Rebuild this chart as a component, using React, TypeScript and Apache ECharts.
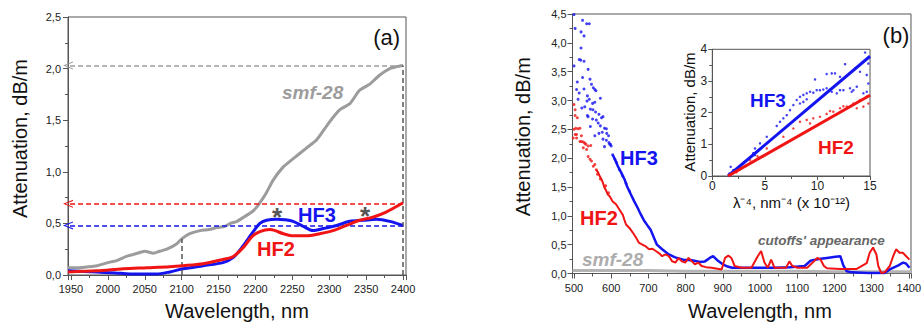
import React, { useEffect, useRef } from "react";
import * as echarts from "echarts";

type P = [number, number];

// ---------- Panel (a): 1950–2400 nm ----------
const SMF_A: P[] = [
  [1946, 0.07], [1960, 0.07], [1975, 0.08], [1985, 0.09], [2000, 0.12], [2012, 0.14],
  [2025, 0.18], [2035, 0.2], [2044, 0.22], [2050, 0.23], [2062, 0.21], [2070, 0.23],
  [2080, 0.25], [2093, 0.3], [2100, 0.35], [2111, 0.4], [2125, 0.43], [2137, 0.44],
  [2148, 0.46], [2158, 0.47], [2166, 0.5], [2175, 0.52], [2184, 0.56], [2195, 0.61],
  [2202, 0.66], [2208, 0.72], [2215, 0.8], [2224, 0.92], [2238, 1.05], [2250, 1.12],
  [2269, 1.23], [2283, 1.31], [2299, 1.47], [2314, 1.6], [2328, 1.66], [2341, 1.79],
  [2355, 1.85], [2369, 1.94], [2382, 2.0], [2392, 2.02], [2400, 2.03],
];
const HF3_A: P[] = [
  [1946, 0.04], [1985, 0.03], [2010, 0.02], [2030, 0.01], [2066, 0.01], [2084, 0.03],
  [2102, 0.06], [2129, 0.09], [2156, 0.12], [2170, 0.17], [2184, 0.29], [2195, 0.4],
  [2206, 0.5], [2215, 0.53], [2229, 0.54], [2240, 0.535], [2251, 0.52], [2265, 0.47],
  [2278, 0.43], [2292, 0.45], [2310, 0.48], [2328, 0.52], [2346, 0.53], [2364, 0.54],
  [2382, 0.52], [2400, 0.48],
];
const HF2_A: P[] = [
  [1946, 0.03], [1985, 0.04], [2021, 0.06], [2053, 0.07], [2084, 0.08], [2102, 0.09],
  [2129, 0.11], [2156, 0.15], [2170, 0.18], [2184, 0.27], [2195, 0.37], [2206, 0.42],
  [2220, 0.44], [2238, 0.4], [2251, 0.38], [2269, 0.38], [2287, 0.4], [2305, 0.43],
  [2323, 0.48], [2341, 0.53], [2359, 0.56], [2377, 0.61], [2400, 0.7],
];
const A_LEVELS = { smf: 2.03, hf2: 0.69, hf3: 0.48 };
const A_MARK_X = [2100, 2400];
const A_MARK_Y = [0.35, 2.03];

// ---------- Panel (b): 500–1400 nm ----------
const HF3_B_DOTS: P[] = [
  [500, 4.49], [523, 4.39], [534, 4.33], [541, 4.33], [503, 4.25], [519, 4.19], [527, 4.12],
  [519, 3.91], [514, 3.71], [518, 3.7], [527, 3.68], [500, 3.6], [538, 3.54], [523, 3.4],
  [543, 3.37], [509, 3.32], [547, 3.28], [552, 3.22], [556, 3.19], [559, 3.17], [507, 3.19],
  [527, 3.2], [514, 3.13], [571, 3.04], [536, 3.08], [511, 3.02], [535, 2.99], [541, 3.02],
  [550, 2.95], [556, 2.97], [521, 2.87], [529, 2.89], [544, 2.85], [551, 2.84], [558, 2.8],
  [536, 2.74], [567, 2.76], [574, 2.7], [578, 2.72], [538, 2.72], [550, 2.68], [560, 2.66],
  [544, 2.55], [565, 2.61], [571, 2.56], [582, 2.52], [587, 2.51], [556, 2.39], [567, 2.43],
  [576, 2.45], [588, 2.43], [593, 2.39], [578, 2.33], [587, 2.31], [594, 2.27], [598, 2.24],
  [600, 2.21], [582, 2.2], [596, 2.24], [604, 2.06], [610, 1.98], [614, 1.93], [622, 1.8],
  [631, 1.69], [640, 1.56], [649, 1.43],
];
const HF3_B: P[] = [
  [604, 2.06], [610, 1.98], [618, 1.86], [627, 1.75], [636, 1.63], [644, 1.49], [653, 1.37],
  [662, 1.25], [671, 1.14], [680, 1.02], [689, 0.91], [698, 0.83], [706, 0.76], [715, 0.62],
  [723, 0.5], [737, 0.42], [755, 0.33], [772, 0.28], [794, 0.24], [817, 0.23], [839, 0.2],
  [852, 0.21], [865, 0.27], [874, 0.3], [887, 0.22], [900, 0.16], [913, 0.12], [925, 0.1],
  [960, 0.1], [1000, 0.1], [1040, 0.1], [1080, 0.11], [1120, 0.13], [1136, 0.22],
  [1158, 0.25], [1180, 0.27], [1203, 0.29], [1216, 0.3], [1224, 0.14], [1233, 0.04],
  [1247, 0.02], [1290, 0.01], [1335, 0.01], [1349, 0.07], [1372, 0.14], [1385, 0.19],
  [1393, 0.17], [1402, 0.1],
];
const HF2_B_DOTS: P[] = [
  [500, 2.93], [503, 2.84], [509, 2.7], [503, 2.74], [500, 2.5], [505, 2.52], [511, 2.51],
  [516, 2.52], [503, 2.41], [507, 2.35], [520, 2.39], [516, 2.29], [525, 2.28], [532, 2.24],
  [538, 2.21], [545, 2.22], [498, 2.35], [507, 2.41], [520, 2.29], [529, 2.26], [525, 2.18],
  [534, 2.15], [538, 2.03], [543, 1.98], [547, 1.95], [552, 1.86], [556, 1.89], [560, 1.8],
  [563, 1.72], [571, 1.64], [585, 1.52], [593, 1.4],
];
const HF2_B: P[] = [
  [560, 1.8], [565, 1.75], [569, 1.69], [574, 1.63], [578, 1.57], [582, 1.49], [587, 1.43],
  [591, 1.37], [596, 1.34], [604, 1.25], [613, 1.2], [622, 1.11], [631, 1.02], [635, 0.94],
  [640, 0.85], [649, 0.79], [658, 0.71], [667, 0.62], [675, 0.53], [684, 0.5], [693, 0.47],
  [702, 0.42], [711, 0.43], [720, 0.39], [729, 0.35], [737, 0.3], [746, 0.33], [755, 0.3],
  [764, 0.21], [773, 0.19], [781, 0.27], [790, 0.21], [799, 0.19], [808, 0.27], [817, 0.21],
  [825, 0.16], [834, 0.19], [843, 0.13], [855, 0.11], [870, 0.1], [897, 0.07], [906, 0.27],
  [915, 0.31], [923, 0.27], [932, 0.13], [950, 0.1], [977, 0.1], [994, 0.3], [1003, 0.39],
  [1012, 0.19], [1021, 0.1], [1030, 0.24], [1039, 0.1], [1070, 0.1], [1079, 0.21],
  [1087, 0.13], [1101, 0.1], [1127, 0.1], [1145, 0.21], [1154, 0.27], [1163, 0.24],
  [1172, 0.13], [1180, 0.09], [1216, 0.08], [1260, 0.08], [1287, 0.18], [1295, 0.36],
  [1304, 0.45], [1313, 0.33], [1318, 0.13], [1326, 0.01], [1335, 0.02], [1349, 0.13],
  [1358, 0.3], [1366, 0.42], [1375, 0.36], [1384, 0.36], [1393, 0.3], [1402, 0.24],
];
const SMF_B: P[] = [
  [496, 0.05], [600, 0.05], [700, 0.05], [800, 0.04], [900, 0.04], [1000, 0.04],
  [1100, 0.04], [1200, 0.03], [1300, 0.03], [1406, 0.03],
];

// ---------- Inset: attenuation vs lambda^-4 ----------
const HF3_FIT: P[] = [[1.5, 0], [15, 3.78]];
const HF2_FIT: P[] = [[1.5, 0], [15, 2.55]];
const HF3_IN_DOTS: P[] = [
  [12.63, 3.53], [14.53, 3.9], [13.58, 3.4], [14.05, 3.29], [14.69, 3.19], [14.84, 3.55],
  [9.77, 3.05], [10.88, 3.22], [11.36, 3.24], [11.67, 3.24], [12.15, 3.13], [10.24, 2.71],
  [10.56, 2.73], [10.88, 2.77], [11.2, 2.73], [11.36, 2.66], [11.84, 2.61], [12.15, 2.71],
  [12.47, 2.71], [13.1, 2.77], [13.26, 2.66], [13.42, 2.71], [13.74, 2.82], [14.37, 2.61],
  [14.69, 2.66], [14.84, 2.92], [8.03, 2.4], [8.34, 2.5], [8.66, 2.56], [8.98, 2.61],
  [9.3, 2.66], [9.61, 2.63], [9.93, 2.71], [8.34, 2.29], [8.66, 2.34], [8.98, 2.42],
  [7.71, 2.24], [7.39, 2.08], [7.08, 1.92], [6.76, 1.82], [6.44, 1.71], [6.13, 1.58],
  [5.18, 1.24], [4.54, 1.03], [4.06, 0.87], [3.9, 0.72], [4.06, 0.66], [2.95, 0.4],
  [2.0, 0.19], [1.75, 0.29], [1.62, 0.08],
];
const HF2_IN_DOTS: P[] = [
  [8.34, 1.71], [8.98, 1.77], [9.61, 1.82], [10.24, 1.87], [10.88, 1.96], [11.51, 2.03],
  [12.15, 2.14], [12.79, 2.19], [13.42, 2.29], [14.05, 2.4], [14.69, 2.5], [14.37, 2.19],
  [14.84, 2.29], [13.74, 2.14], [6.76, 1.24], [5.18, 0.87], [3.59, 0.5], [2.64, 0.24],
  [1.85, 0.08], [7.71, 1.5], [9.3, 1.66], [11.2, 2.05], [12.47, 2.2], [3.2, 0.32],
  [4.3, 0.62], [2.3, 0.12],
];

const BLUE = "#1414f0";
const RED = "#f01414";
const GRAY = "#9c9c9c";
const AXIS = "#555";
const FONT = "'Liberation Sans', Arial, sans-serif";
const CHEVRON = "path://M5,0 L10,10 L8.6,10 L5,2.6 L1.4,10 L0,10 Z";

const comma = (v: number) => v.toFixed(1).replace(".", ",");
const plain = (v: number) => String(Math.round(v));

function axisCommon(extra: any) {
  return {
    type: "value",
    axisLine: { show: true, onZero: false, lineStyle: { color: AXIS, width: 1 } },
    axisTick: { show: true, inside: false, length: 5, lineStyle: { color: AXIS } },
    minorTick: { show: true, splitNumber: 2, length: 3, lineStyle: { color: AXIS } },
    splitLine: { show: false },
    minorSplitLine: { show: false },
    ...extra,
    axisLabel: { color: "#222", fontSize: 11, fontFamily: FONT, ...(extra.axisLabel || {}) },
  };
}

function txt(text: string, x: number, y: number, font: string, fill: string, align = "left", rotation = 0) {
  return {
    type: "text",
    x,
    y,
    rotation,
    silent: true,
    z: 100,
    style: {
      text,
      font,
      fill,
      align,
      textAlign: align,
      verticalAlign: "middle",
      textVerticalAlign: "middle",
    },
  };
}

export default function App() {
  const ref = useRef<HTMLDivElement>(null);
  useEffect(() => {
    if (!ref.current) return;
    const chart = echarts.init(ref.current, null, { renderer: "svg" });
    const dashed = (color: string, data: any[]) => ({
      silent: true,
      animation: false,
      label: { show: false },
      symbol: ["none", "none"],
      lineStyle: { type: [5, 3], color, width: 1.5 },
      emphasis: { disabled: true },
      data,
    });
    const hLine = (y: number) => [
      { coord: [A_MARK_X[1], y], symbol: "none" },
      { coord: [1946, y], symbol: CHEVRON, symbolSize: [8, 10] },
    ];
    const option: any = {
      animation: false,
      textStyle: { fontFamily: FONT },
      grid: [
        { left: 68, top: 17, width: 338, height: 258, show: true, borderColor: AXIS, borderWidth: 1, backgroundColor: "transparent" },
        { left: 572.5, top: 14, width: 342.5, height: 259.5, show: true, borderColor: AXIS, borderWidth: 1, backgroundColor: "transparent" },
        { left: 712.3, top: 49.3, width: 157.7, height: 126.7, show: true, borderColor: AXIS, borderWidth: 1, backgroundColor: "transparent" },
      ],
      xAxis: [
        axisCommon({ gridIndex: 0, min: 1946, max: 2404, splitNumber: 9, axisLabel: { margin: 8, showMinLabel: false, showMaxLabel: false, formatter: plain } }),
        axisCommon({ gridIndex: 1, min: 496, max: 1406, splitNumber: 9, axisLabel: { margin: 9, showMinLabel: false, showMaxLabel: false, formatter: plain } }),
        axisCommon({ gridIndex: 2, min: 0, max: 15, interval: 5, axisTick: { show: true, length: 4, lineStyle: { color: AXIS } }, axisLabel: { margin: 4, fontSize: 12, formatter: plain } }),
      ],
      yAxis: [
        axisCommon({ gridIndex: 0, min: 0, max: 2.5, interval: 0.5, axisLabel: { margin: 7, formatter: comma } }),
        axisCommon({ gridIndex: 1, min: 0, max: 4.5, interval: 0.5, axisLabel: { margin: 6, formatter: comma } }),
        axisCommon({ gridIndex: 2, min: 0, max: 4, interval: 1, axisTick: { show: true, length: 4, lineStyle: { color: AXIS } }, axisLabel: { margin: 5, fontSize: 12, formatter: plain } }),
      ],
      series: [
        // panel (a)
        {
          name: "smf-28 (a)", type: "line", xAxisIndex: 0, yAxisIndex: 0, data: SMF_A,
          showSymbol: false, smooth: 0.2, lineStyle: { color: GRAY, width: 3 }, z: 3,
          markLine: dashed(GRAY, [hLine(A_LEVELS.smf)]),
        },
        {
          name: "marks (a)", type: "line", xAxisIndex: 0, yAxisIndex: 0, data: [],
          markLine: dashed("#555", [
            [{ coord: [A_MARK_X[0], 0] }, { coord: [A_MARK_X[0], A_MARK_Y[0]] }],
            [{ coord: [A_MARK_X[1], 0] }, { coord: [A_MARK_X[1], A_MARK_Y[1]] }],
          ]),
        },
        {
          name: "HF3 (a)", type: "line", xAxisIndex: 0, yAxisIndex: 0, data: HF3_A,
          showSymbol: false, smooth: 0.3, lineStyle: { color: BLUE, width: 3 }, z: 4,
          markLine: dashed(BLUE, [hLine(A_LEVELS.hf3)]),
        },
        {
          name: "HF2 (a)", type: "line", xAxisIndex: 0, yAxisIndex: 0, data: HF2_A,
          showSymbol: false, smooth: 0.3, lineStyle: { color: RED, width: 3 }, z: 5,
          markLine: dashed(RED, [hLine(A_LEVELS.hf2)]),
        },
        // panel (b)
        {
          name: "smf-28 (b)", type: "line", xAxisIndex: 1, yAxisIndex: 1, data: SMF_B,
          showSymbol: false, lineStyle: { color: "#b4b4b4", width: 3 }, z: 2,
        },
        {
          name: "HF3 dots (b)", type: "scatter", xAxisIndex: 1, yAxisIndex: 1, data: HF3_B_DOTS,
          symbolSize: 3, itemStyle: { color: BLUE }, z: 3,
        },
        {
          name: "HF3 (b)", type: "line", xAxisIndex: 1, yAxisIndex: 1, data: HF3_B,
          showSymbol: false, lineStyle: { color: BLUE, width: 2.5 }, z: 3,
        },
        {
          name: "HF2 dots (b)", type: "scatter", xAxisIndex: 1, yAxisIndex: 1, data: HF2_B_DOTS,
          symbolSize: 3, itemStyle: { color: RED }, z: 4,
        },
        {
          name: "HF2 (b)", type: "line", xAxisIndex: 1, yAxisIndex: 1, data: HF2_B,
          showSymbol: false, lineStyle: { color: RED, width: 2 }, z: 4,
        },
        // inset
        {
          name: "HF3 dots (inset)", type: "scatter", xAxisIndex: 2, yAxisIndex: 2, data: HF3_IN_DOTS,
          symbolSize: 2.5, itemStyle: { color: BLUE }, z: 5,
        },
        {
          name: "HF2 dots (inset)", type: "scatter", xAxisIndex: 2, yAxisIndex: 2, data: HF2_IN_DOTS,
          symbolSize: 2.5, itemStyle: { color: RED }, z: 5,
        },
        {
          name: "HF3 fit", type: "line", xAxisIndex: 2, yAxisIndex: 2, data: HF3_FIT,
          showSymbol: false, lineStyle: { color: BLUE, width: 3 }, z: 6,
        },
        {
          name: "HF2 fit", type: "line", xAxisIndex: 2, yAxisIndex: 2, data: HF2_FIT,
          showSymbol: false, lineStyle: { color: RED, width: 3 }, z: 6,
        },
      ],
      graphic: [
        // axis titles
        txt("Attenuation, dB/m", 19.5, 138.5, `20px ${FONT}`, "#111", "center", Math.PI / 2),
        txt("Wavelength, nm", 237, 310.5, `20px ${FONT}`, "#111", "center"),
        txt("Attenuation, dB/m", 523.4, 136.7, `20px ${FONT}`, "#111", "center", Math.PI / 2),
        txt("Wavelength, nm", 760, 310.8, `20px ${FONT}`, "#111", "center"),
        txt("Attenuation, dB/m", 689.5, 112, `15px ${FONT}`, "#111", "center", Math.PI / 2),
        txt("λ⁻⁴, nm⁻⁴ (x 10⁻¹²)", 791.5, 202, `15px ${FONT}`, "#111", "center"),
        // panel labels
        txt("(a)", 386.7, 37, `22px ${FONT}`, "#111", "center"),
        txt("(b)", 896, 35, `22px ${FONT}`, "#111", "center"),
        // panel (a) annotations
        txt("smf-28", 282, 92, `italic bold 19px ${FONT}`, GRAY),
        txt("HF3", 298, 214.5, `bold 20px ${FONT}`, BLUE),
        txt("HF2", 257, 249, `bold 20px ${FONT}`, RED),
        txt("*", 277, 217, `bold 26px ${FONT}`, "#555", "center"),
        txt("*", 365, 216, `bold 26px ${FONT}`, "#555", "center"),
        // panel (b) annotations
        txt("HF3", 620, 158, `bold 20px ${FONT}`, BLUE),
        txt("HF2", 580, 218, `bold 20px ${FONT}`, RED),
        txt("smf-28", 582, 259, `italic bold 19px ${FONT}`, "#adadad"),
        txt("cutoffs' appearance", 758, 240, `italic bold 13.5px ${FONT}`, "#666"),
        // inset annotations
        txt("HF3", 750, 100, `bold 19px ${FONT}`, BLUE),
        txt("HF2", 818, 147, `bold 19px ${FONT}`, RED),
      ],
    };
    chart.setOption(option);
    return () => chart.dispose();
  }, []);
  return (
    <div
      ref={ref}
      style={{ position: "fixed", left: 0, top: 0, width: 924, height: 324, background: "#fff" }}
    />
  );
}
